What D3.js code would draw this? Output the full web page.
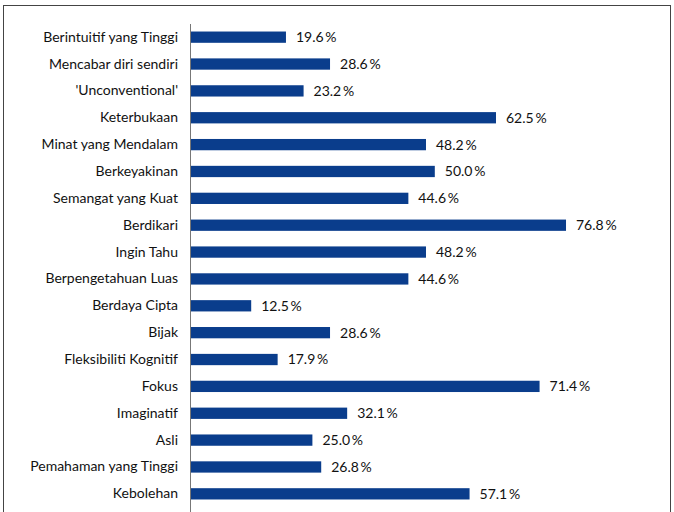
<!DOCTYPE html>
<html>
<head>
  <script src="https://cdn.jsdelivr.net/npm/d3@7"></script>
  <style>
    body { margin: 0; background: #fff; }
    text { font-family: Lato, "Open Sans", sans-serif; }
  </style>
</head>
<body>
  <svg width="674" height="512" id="mainsvg"></svg>
  <script>
      const categories = ['Berintuitif yang Tinggi', 'Mencabar diri sendiri', "'Unconventional'", 'Keterbukaan',
        'Minat yang Mendalam', 'Berkeyakinan', 'Semangat yang Kuat', 'Berdikari', 'Ingin Tahu',
        'Berpengetahuan Luas', 'Berdaya Cipta', 'Bijak', 'Fleksibiliti Kognitif', 'Fokus',
        'Imaginatif', 'Asli', 'Pemahaman yang Tinggi', 'Kebolehan'];
      const values = [19.6, 28.6, 23.2, 62.5, 48.2, 50.0, 44.6, 76.8, 48.2, 44.6, 12.5, 28.6, 17.9, 71.4, 32.1, 25.0, 26.8, 57.1];

      const svg = d3.select('svg');
      const width = +svg.attr('width');
      const height = +svg.attr('height');
      const margin = {top: 24, left: 190};

      // frame round the chart
      svg.append('rect').attr('x', 3.5).attr('y', 5.5).attr('width', 667).attr('height', 520)
        .attr('fill', 'none').attr('stroke', '#444').attr('stroke-width', 1);

      const g = svg.append('g').attr('transform', `translate(${margin.left}, ${margin.top})`);

      const xScale = d3.scaleLinear().domain([0, 100]).range([0, 489.6]);
      const yScale = d3.scaleBand().domain(categories).range([0, 483]).paddingInner(0.58).paddingOuter(0.28);

      g.selectAll('rect.bar').data(categories).join('rect').attr('class', 'bar')
        .attr('x', 0).attr('y', d => yScale(d))
        .attr('width', (d, i) => xScale(values[i])).attr('height', yScale.bandwidth())
        .attr('fill', '#0a3d8c');

      const yAxis = d3.axisLeft(yScale).tickSize(0).tickPadding(12);
      const yAxisGroup = g.append('g').call(yAxis);
      yAxisGroup.select('.domain').attr('stroke', '#777').attr('d', `M0.5,0V${height}`);
      yAxisGroup.selectAll('.tick text').attr('font-size', '14px').attr('fill', '#111')
        .attr('font-family', 'Lato, sans-serif');

      g.selectAll('text.val').data(categories).join('text').attr('class', 'val')
        .attr('x', (d, i) => xScale(values[i]) + 10)
        .attr('y', d => yScale(d) + yScale.bandwidth() / 2)
        .attr('dy', '0.35em').attr('font-size', '14px').attr('fill', '#111')
        .text((d, i) => values[i].toFixed(1) + '\u2009%');
  </script>
</body>
</html>
